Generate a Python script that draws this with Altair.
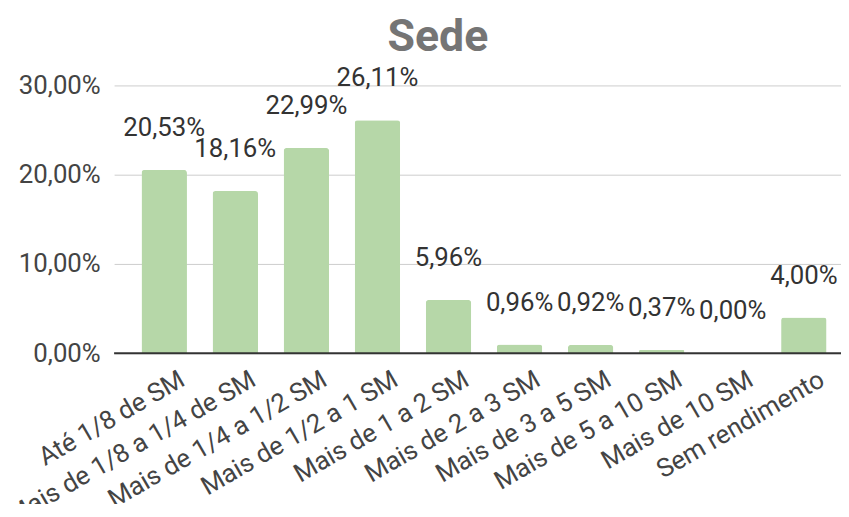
import altair as alt
import pandas as pd

categories = ["Até 1/8 de SM", "Mais de 1/8 a 1/4 de SM", "Mais de 1/4 a 1/2 SM",
              "Mais de 1/2 a 1 SM", "Mais de 1 a 2 SM", "Mais de 2 a 3 SM",
              "Mais de 3 a 5 SM", "Mais de 5 a 10 SM", "Mais de 10 SM", "Sem rendimento"]
values = [20.53, 18.16, 22.99, 26.11, 5.96, 0.96, 0.92, 0.37, 0.00, 4.00]
y_ticks = [0, 10, 20, 30]

df = pd.DataFrame({"cat": categories, "val": values})
df["lbl"] = [f"{v:.2f}".replace(".", ",") + "%" for v in values]

FONT = "Roboto"
FS = 26

x = alt.X("cat:N", sort=categories,
          scale=alt.Scale(paddingInner=0.36, paddingOuter=0.294, align=0.655),
          axis=alt.Axis(title=None, labelAngle=-30, labelAlign="right", labelBaseline="top",
                        labelOffset=12, labelPadding=13, ticks=False, domain=False,
                        labelFontSize=FS, labelColor="#444444", labelFont=FONT,
                        labelLimit=500))
y = alt.Y("val:Q", scale=alt.Scale(domain=[0, 30], nice=False),
          axis=alt.Axis(title=None, values=y_ticks, ticks=False, domain=False,
                        labelExpr="replace(format(datum.value, '.2f'), '.', ',') + '%'",
                        labelFontSize=FS, labelColor="#444444", labelFont=FONT,
                        labelPadding=14, gridColor="#cccccc", gridWidth=1))

base = alt.Chart(df)

bars = base.mark_bar(color="#b6d7a8", cornerRadiusTopLeft=3, cornerRadiusTopRight=3).encode(x=x, y=y)

labels = base.mark_text(font=FONT, fontSize=FS, color="#333333", baseline="middle", dy=-42).encode(
    x=alt.X("cat:N", sort=categories), y="val:Q", text="lbl:N")

zero = alt.Chart(pd.DataFrame({"z": [0]})).mark_rule(color="#333333", strokeWidth=2).encode(y="z:Q")

chart = alt.layer(bars, zero, labels).properties(
    width=733, height=270,
    title=alt.TitleParams("Sede", fontSize=45, font=FONT, fontWeight="bold", color="#757575",
                          anchor="middle", frame="group", dx=-40, offset=6),
    autosize=alt.AutoSizeParams(type="none"),
    padding={"left": 107, "top": 76, "right": 0, "bottom": 150},
).configure_view(stroke=None)

chart.save("out.html", embed_options={"renderer": "svg", "actions": False})
